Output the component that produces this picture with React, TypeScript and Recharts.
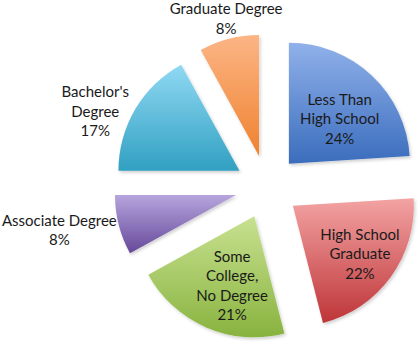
import { PieChart, Pie, Cell, Sector } from "recharts";

const CATEGORIES = [
  "Less Than\nHigh School",
  "High School\nGraduate",
  "Some\nCollege,\nNo Degree",
  "Associate Degree",
  "Bachelor's\nDegree",
  "Graduate Degree",
];
const SHARES = [24, 22, 21, 8, 17, 8];

// gradient top / bottom per slice
const TOP_COLORS = ["#90b1ea", "#f3a3a3", "#c8e190", "#b6a5dd", "#90d9f3", "#fcb585"];
const BOTTOM_COLORS = ["#3b6dbd", "#be3538", "#88b33f", "#66489a", "#31a0c2", "#ef8230"];

// label placement: [radius from pie centre, clockwise angle shift in degrees]
const LABEL_LAYOUT: [number, number][] = [
  [100, 3.4],
  [114, -0.6],
  [104, -3.8],
  [212, 2.8],
  [188, -6.6],
  [174, 0.8],
];

const data = CATEGORIES.map((name, i) => ({ name, value: SHARES[i] }));

const RAD = Math.PI / 180;
const EXPLODE = 32;

const ExplodedSector = (props: any) => {
  const { cx, cy, midAngle, index } = props;
  const dx = EXPLODE * Math.cos(-midAngle * RAD);
  const dy = EXPLODE * Math.sin(-midAngle * RAD);
  return (
    <Sector
      cx={cx + dx}
      cy={cy + dy}
      innerRadius={0}
      outerRadius={props.outerRadius}
      startAngle={props.startAngle}
      endAngle={props.endAngle}
      fill={`url(#grad-${index})`}
      stroke="none"
      filter="url(#shadow)"
    />
  );
};

const renderLabel = (props: any) => {
  const { cx, cy, midAngle, index, payload } = props;
  const [r, shift] = LABEL_LAYOUT[index];
  const a = midAngle - shift;
  const x = cx + r * Math.cos(-a * RAD);
  const y = cy + r * Math.sin(-a * RAD);
  const lines = [...String(payload.name).split("\n"), `${payload.value}%`];
  const lh = 19.5;
  const y0 = y - ((lines.length - 1) * lh) / 2;
  return (
    <text
      x={x}
      y={y0}
      textAnchor="middle"
      dominantBaseline="central"
      fill="#1a1a1a"
      fontSize={15}
      fontFamily="Lato, 'Open Sans', sans-serif"
    >
      {lines.map((l, i) => (
        <tspan key={i} x={x} y={y0 + i * lh}>
          {l}
        </tspan>
      ))}
    </text>
  );
};

export default function App() {
  return (
    <div style={{ position: "fixed", left: 0, top: 0, width: 419, height: 345, background: "#fff" }}>
      <PieChart width={419} height={345} margin={{ top: 0, right: 0, bottom: 0, left: 0 }}>
        <defs>
          {CATEGORIES.map((_, i) => (
            <linearGradient key={i} id={`grad-${i}`} x1="0" y1="0" x2="0" y2="1">
              <stop offset="0%" stopColor={TOP_COLORS[i]} />
              <stop offset="100%" stopColor={BOTTOM_COLORS[i]} />
            </linearGradient>
          ))}
          <filter id="shadow" x="-10%" y="-10%" width="130%" height="130%">
            <feDropShadow dx="1.5" dy="2" stdDeviation="1.5" floodColor="#000" floodOpacity="0.18" />
          </filter>
        </defs>
        <Pie
          data={data}
          dataKey="value"
          nameKey="name"
          cx={267}
          cy={187}
          outerRadius={121}
          startAngle={90}
          endAngle={-270}
          paddingAngle={0}
          stroke="none"
          isAnimationActive={false}
          labelLine={false}
          label={renderLabel}
          shape={ExplodedSector}
          activeShape={ExplodedSector}
        >
          {data.map((_, i) => (
            <Cell key={i} fill={`url(#grad-${i})`} />
          ))}
        </Pie>
      </PieChart>
    </div>
  );
}
